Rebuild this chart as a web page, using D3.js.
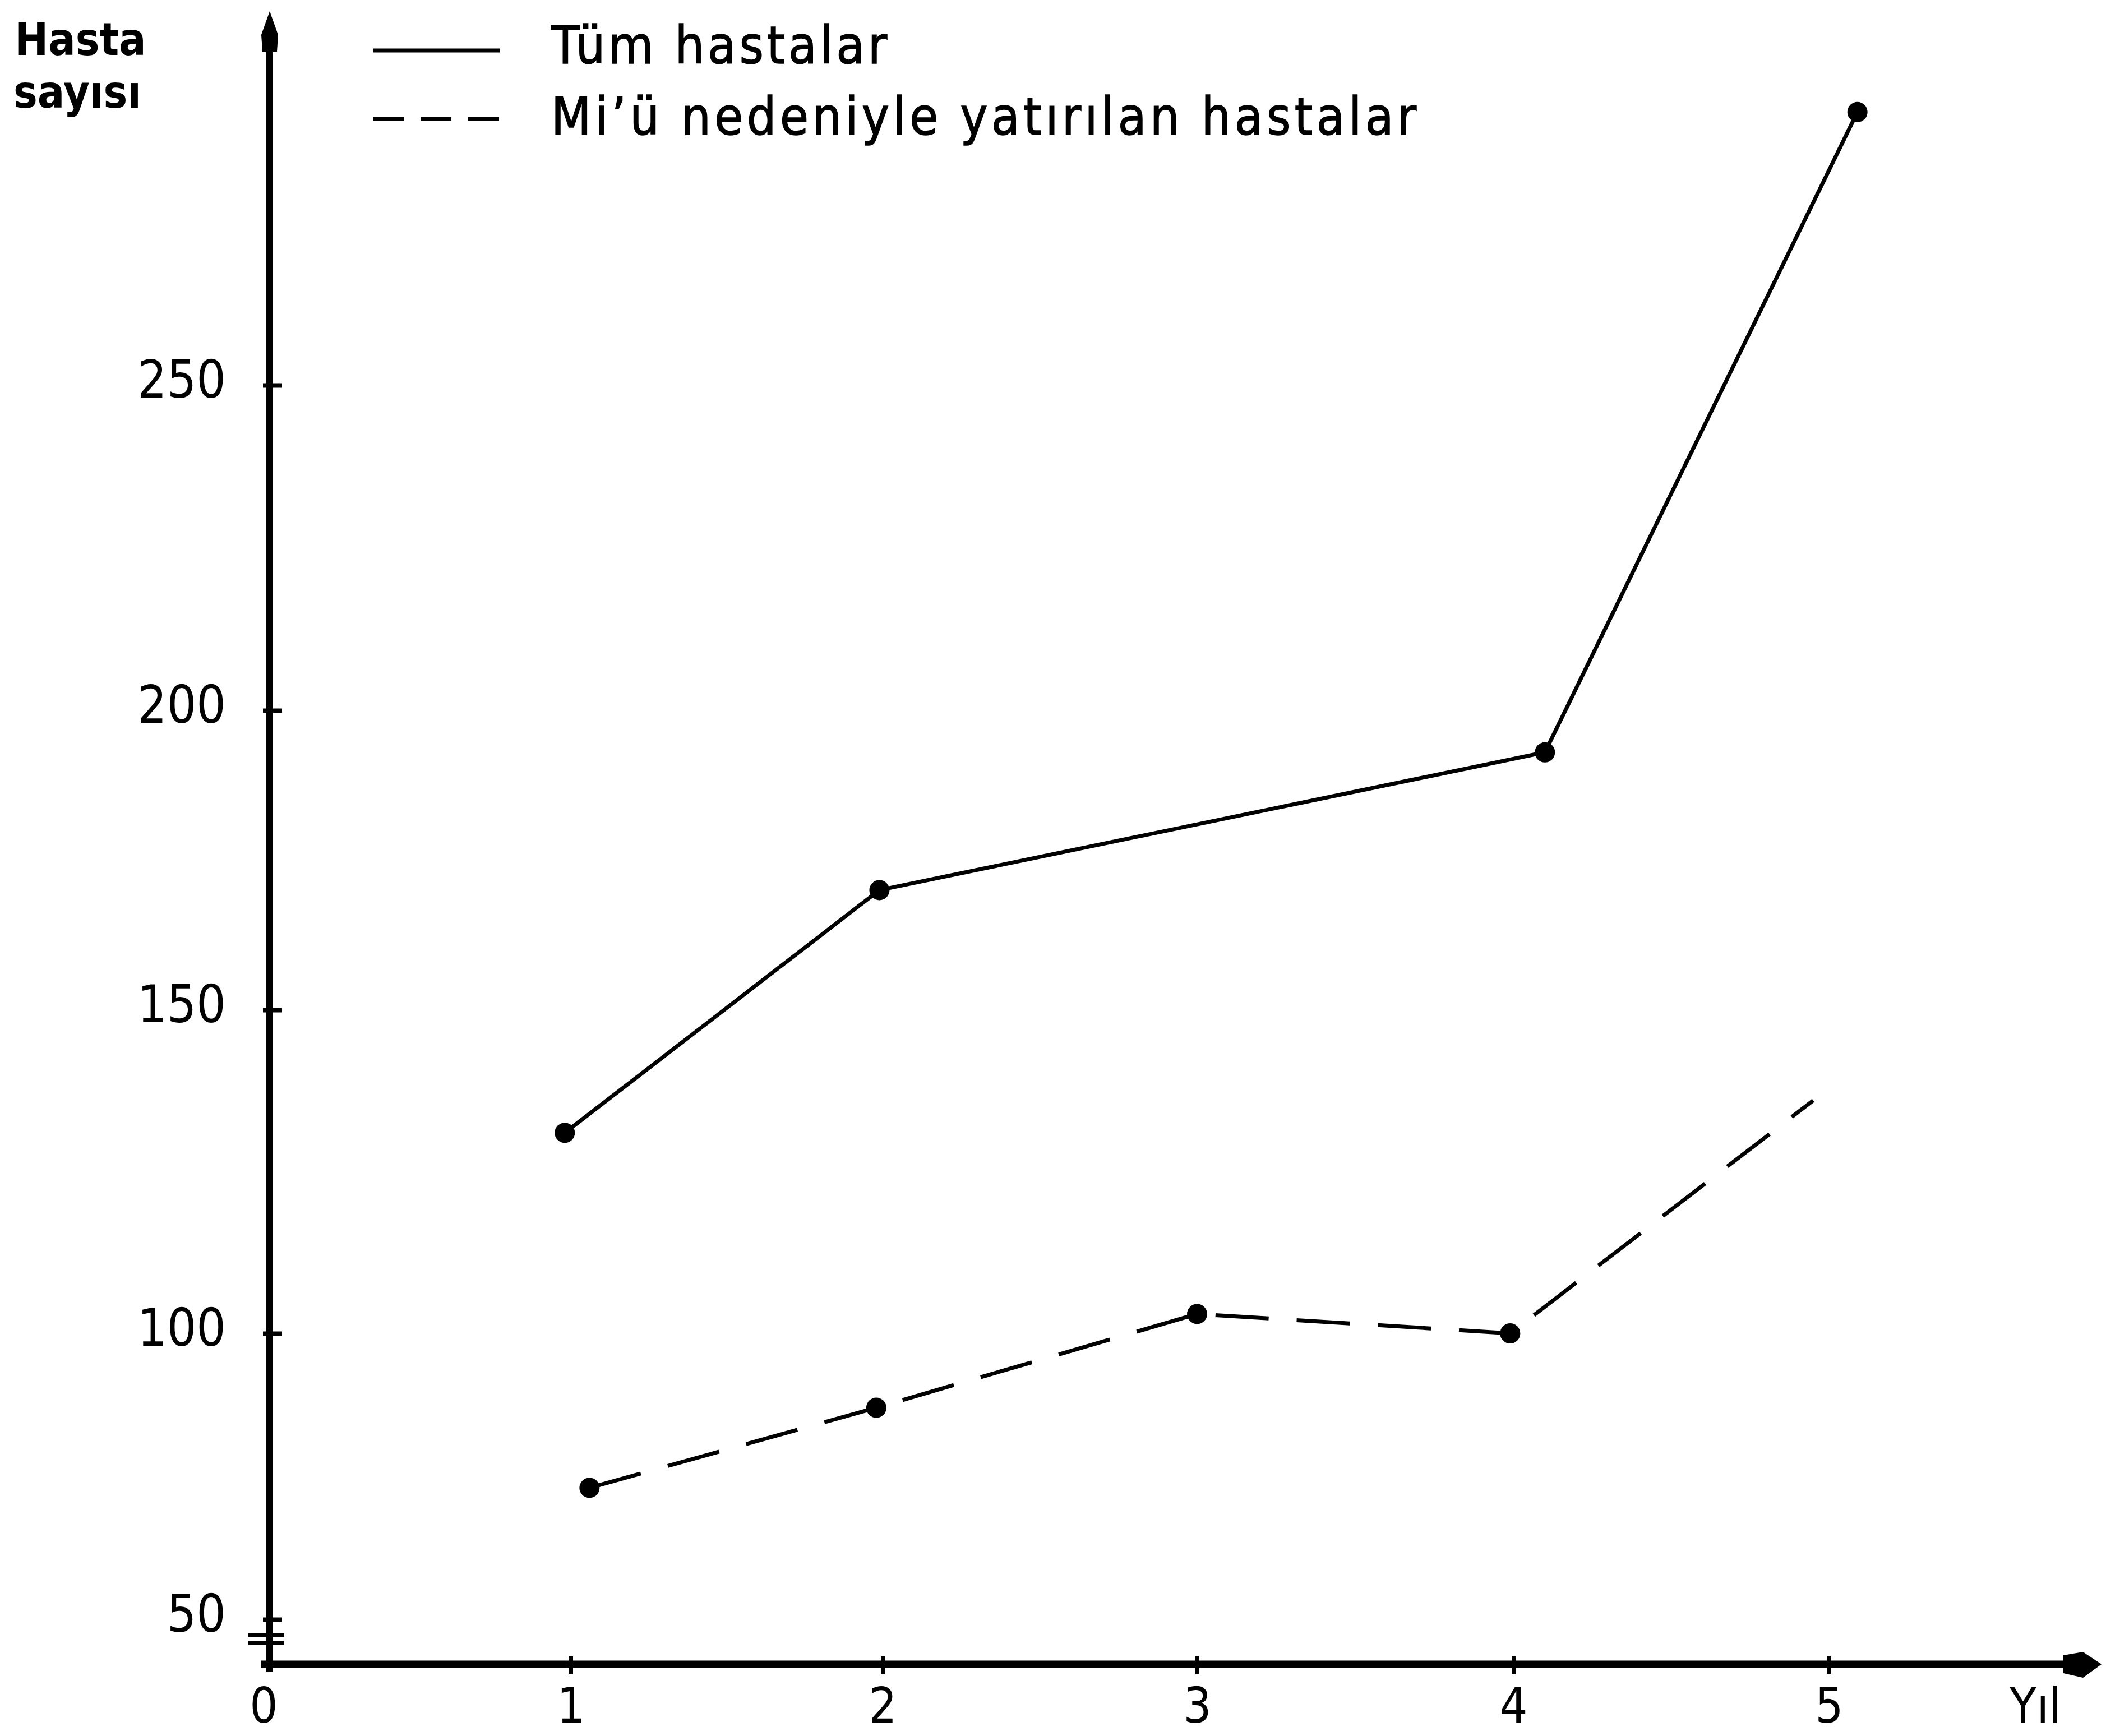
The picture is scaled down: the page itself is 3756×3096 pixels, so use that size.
<!DOCTYPE html>
<html>
<head>
<meta charset="utf-8">
<script src="https://cdn.jsdelivr.net/npm/d3@7"></script>
<style>
  html, body { margin: 0; padding: 0; background: #fff; }
  svg { display: block; }
  text { font-family: "Liberation Sans Narrow", "DejaVu Sans Condensed", "Liberation Sans", sans-serif; fill: #000; }
</style>
</head>
<body>
<div id="chart"></div>
<script>
// values
const years = [0, 1, 2, 3, 4, 5];
const yTicks = [50, 100, 150, 200, 250];

// Tüm hastalar (no dot at year 3 in the original)
const tumX = [0.98, 1.99, 4.1, 5.09];
const tumY = [131, 170, 193, 292];

// MI'ü nedeniyle yatırılan hastalar (last point has no dot)
const miX = [1.06, 1.98, 3.0, 3.99, 4.95];
const miY = [73, 87, 103, 100, 136];
const miDot = [true, true, true, true, false];

const legendLabels = ['Tüm hastalar', 'Mi’ü nedeniyle yatırılan hastalar'];
const yTitle = ['Hasta', 'sayısı'];
const xTitle = 'Yıl';

const W = 3756, H = 3096;
const axisX = 481, axisY = 2968;

const svg = d3.select('#chart').append('svg')
  .attr('width', W)
  .attr('height', H);

// hand drawn axes are not evenly spaced, so use polylinear scales
const x = d3.scaleLinear()
  .domain(years)
  .range([481, 1018, 1574, 2135, 2699, 3262]);

const y = d3.scaleLinear()
  .domain(yTicks)
  .range([2888, 2378, 1801, 1267, 687]);

// y axis
const yAxis = svg.append('g')
  .attr('transform', `translate(${axisX},0)`)
  .call(d3.axisLeft(y).tickValues(yTicks).tickFormat(d3.format('d')).tickSize(12).tickPadding(66));
yAxis.select('.domain').remove();
yAxis.selectAll('.tick line')
  .attr('x1', 22).attr('x2', -12)
  .attr('stroke', '#000').attr('stroke-width', 8);
yAxis.selectAll('.tick text')
  .attr('dy', '0.23em')
  .style('font-size', '92px');

// x axis
const xAxis = svg.append('g')
  .attr('transform', `translate(0,${axisY})`)
  .call(d3.axisBottom(x).tickValues(years).tickFormat(d3.format('d')).tickSize(15));
xAxis.select('.domain').remove();
xAxis.selectAll('.tick line')
  .attr('y1', -14).attr('y2', 18)
  .attr('stroke', '#000').attr('stroke-width', 7);
xAxis.selectAll('.tick line').filter(d => d === 0).remove();
xAxis.selectAll('.tick text')
  .attr('y', 104).attr('dy', 0)
  .style('font-size', '88px');
xAxis.selectAll('.tick text').filter(d => d === 0).attr('x', -11);

// thick axis lines with arrow heads
svg.append('line')
  .attr('x1', axisX).attr('x2', axisX)
  .attr('y1', 80).attr('y2', axisY + 14)
  .attr('stroke', '#000').attr('stroke-width', 12);
svg.append('path')
  .attr('d', `M${axisX},20 L${axisX + 15},62 L${axisX + 13},92 L${axisX - 13},92 L${axisX - 15},62 Z`)
  .attr('fill', '#000');

svg.append('line')
  .attr('x1', axisX - 16).attr('x2', 3690)
  .attr('y1', axisY).attr('y2', axisY)
  .attr('stroke', '#000').attr('stroke-width', 13);
svg.append('path')
  .attr('d', `M3748,${axisY} L3715,${axisY - 22} L3680,${axisY - 16} L3680,${axisY + 16} L3715,${axisY + 24} Z`)
  .attr('fill', '#000');

// axis break marks under 50
[2916, 2930].forEach(by => {
  svg.append('line')
    .attr('x1', axisX - 38).attr('x2', axisX + 26)
    .attr('y1', by).attr('y2', by)
    .attr('stroke', '#000').attr('stroke-width', 7);
});

// axis titles
svg.append('text')
  .attr('x', 26).attr('y', 98)
  .style('font-size', '80px').style('font-weight', 'bold')
  .text(yTitle[0]);
svg.append('text')
  .attr('x', 24).attr('y', 192)
  .style('font-size', '80px').style('font-weight', 'bold')
  .text(yTitle[1]);
svg.append('text')
  .attr('x', 3630).attr('y', axisY + 104)
  .attr('text-anchor', 'middle')
  .style('font-size', '88px')
  .text(xTitle);

// series
const line = d3.line()
  .x(d => x(d.x))
  .y(d => y(d.v));

const tum = tumX.map((v, i) => ({x: v, v: tumY[i]}));
const mi = miX.map((v, i) => ({x: v, v: miY[i], dot: miDot[i]}));

svg.append('path')
  .datum(tum)
  .attr('d', line)
  .attr('fill', 'none')
  .attr('stroke', '#000')
  .attr('stroke-width', 7);

svg.append('path')
  .datum(mi)
  .attr('d', line)
  .attr('fill', 'none')
  .attr('stroke', '#000')
  .attr('stroke-width', 7)
  .attr('stroke-dasharray', '95,50');

svg.append('g').selectAll('circle')
  .data(tum.concat(mi.filter(d => d.dot)))
  .enter()
  .append('circle')
  .attr('cx', d => x(d.x))
  .attr('cy', d => y(d.v))
  .attr('r', 18)
  .attr('fill', '#000');

// legend
const legend = svg.append('g');
const legendRows = [
  {label: legendLabels[0], ly: 90, ty: 113, dash: null, len: 599},
  {label: legendLabels[1], ly: 212, ty: 240, dash: '55,30', len: 1543}
];
legendRows.forEach(r => {
  legend.append('line')
    .attr('x1', 665).attr('x2', 892)
    .attr('y1', r.ly).attr('y2', r.ly)
    .attr('stroke', '#000').attr('stroke-width', 7)
    .attr('stroke-dasharray', r.dash);
  legend.append('text')
    .attr('x', 983).attr('y', r.ty)
    .attr('textLength', r.len)
    .attr('lengthAdjust', 'spacing')
    .style('font-size', '92px')
    .style('stroke', '#000').style('stroke-width', 1.5)
    .text(r.label);
});
</script>
</body>
</html>
